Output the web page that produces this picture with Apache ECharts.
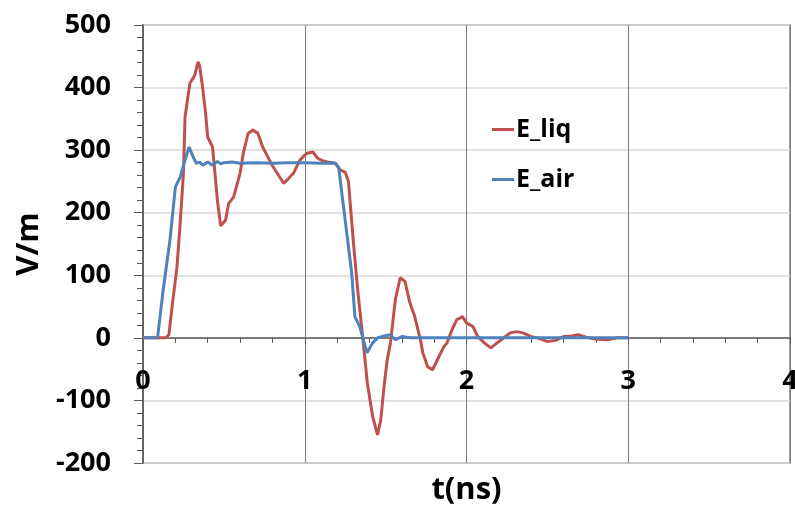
<!DOCTYPE html>
<html>
<head>
<meta charset="utf-8">
<script src="https://cdn.jsdelivr.net/npm/echarts@6/dist/echarts.min.js"></script>
<style>
html,body{margin:0;padding:0;background:#fff;}
#chart{width:795px;height:509px;}
</style>
</head>
<body>
<div id="chart"></div>
<script>
// E_liq series (time in ns, field in V/m)
var tLiq = [0,0.14,0.16,0.18,0.21,0.23,0.25,0.26,0.29,0.31,0.32,0.34,0.35,0.365,0.385,0.40,0.43,0.445,0.46,0.48,0.51,0.53,0.56,0.60,0.62,0.65,0.68,0.71,0.74,0.77,0.80,0.83,0.87,0.89,0.93,0.97,1.0,1.015,1.05,1.08,1.11,1.14,1.19,1.22,1.25,1.27,1.30,1.33,1.36,1.387,1.42,1.45,1.47,1.49,1.51,1.53,1.56,1.59,1.62,1.65,1.68,1.715,1.73,1.76,1.79,1.82,1.86,1.88,1.91,1.94,1.975,2.0,2.04,2.07,2.11,2.15,2.19,2.23,2.27,2.31,2.35,2.40,2.44,2.50,2.55,2.60,2.65,2.69,2.74,2.80,2.87,2.93,3.0];
var vLiq = [0,0,5,50,113,184,263,353,407,415,420,441,435,407,364,321,305,263,220,179,188,215,225,263,295,327,332,327,305,290,275,263,247,252,263,284,292,295,297,287,283,281,279,268,265,250,155,70,-3,-72,-126,-155,-131,-78,-35,-8,61,96,90,56,34,-3,-24,-46,-51,-35,-14,-8,13,29,34,24,18,2,-8,-16,-8,0,8,10,8,2,0,-6,-4,2,3,5,1,-2,-3,0,0];
// E_air series
var tAir = [0,0.09,0.125,0.167,0.2,0.23,0.26,0.285,0.31,0.33,0.35,0.37,0.40,0.43,0.46,0.48,0.5,0.55,0.6,0.7,0.8,0.9,1.0,1.1,1.19,1.21,1.24,1.29,1.31,1.34,1.385,1.42,1.45,1.49,1.53,1.56,1.6,1.65,3.0];
var vAir = [0,0,77,157,241,257,284,305,289,279,281,276,281,276,282,278,280,281,279,280,279,280,280,279,279,272,209,104,34,18,-24,-8,0,3,5,-3,2,0,0];
var seriesNames = ['E_liq','E_air'];
var xTicks = {min:0,max:4,interval:1};
var yTicks = {min:-200,max:500,interval:100};

function pairs(t,v){var o=[];for(var i=0;i<t.length;i++)o.push([t[i],v[i]]);return o;}

var chart = echarts.init(document.getElementById('chart'));
var font = '"Open Sans", "Noto Sans", sans-serif';
chart.setOption({
  animation:false,
  grid:{left:143,right:5,top:25,bottom:46,containLabel:false,outerBoundsMode:'none',show:true,borderColor:'#7f7f7f',borderWidth:1.5},
  legend:{
    orient:'vertical',left:487,top:112,itemWidth:22,itemHeight:3,itemGap:25,
    data:[{name:seriesNames[0],icon:'rect'},{name:seriesNames[1],icon:'rect'}],
    textStyle:{fontFamily:font,fontWeight:'bold',fontSize:25,color:'#000',padding:[0,0,0,-3]}
  },
  xAxis:{
    type:'value',min:xTicks.min,max:xTicks.max,interval:xTicks.interval,
    name:'t(ns)',nameLocation:'middle',nameGap:12,
    nameTextStyle:{fontFamily:font,fontWeight:'bold',fontSize:31,color:'#000'},
    axisLine:{onZero:true,lineStyle:{color:'#595959',width:1.5}},
    axisTick:{show:true,length:6,lineStyle:{color:'#595959'}},
    minorTick:{show:true,splitNumber:5,length:5,lineStyle:{color:'#595959'}},
    axisLabel:{fontFamily:font,fontWeight:'bold',fontSize:27,color:'#000',margin:-95},
    splitLine:{show:true,lineStyle:{color:'#7f7f7f',width:1}}
  },
  yAxis:{
    type:'value',min:yTicks.min,max:yTicks.max,interval:yTicks.interval,
    name:'V/m',nameLocation:'middle',nameGap:98,
    nameTextStyle:{fontFamily:font,fontWeight:'bold',fontSize:31,color:'#000'},
    axisLine:{show:true,lineStyle:{color:'#595959',width:1.5}},
    axisTick:{show:true,length:9,lineStyle:{color:'#595959'}},
    minorTick:{show:true,splitNumber:5,length:6,lineStyle:{color:'#595959'}},
    axisLabel:{fontFamily:font,fontWeight:'bold',fontSize:27,color:'#000',margin:32},
    splitLine:{show:true,lineStyle:{color:'#d9d9d9',width:1.5}}
  },
  series:[
    {name:seriesNames[0],type:'line',data:pairs(tLiq,vLiq),showSymbol:false,
     lineStyle:{color:'#C0504D',width:3},itemStyle:{color:'#C0504D'}},
    {name:seriesNames[1],type:'line',data:pairs(tAir,vAir),showSymbol:false,
     lineStyle:{color:'#4F81BD',width:3},itemStyle:{color:'#4F81BD'}}
  ]
});
</script>
</body>
</html>
